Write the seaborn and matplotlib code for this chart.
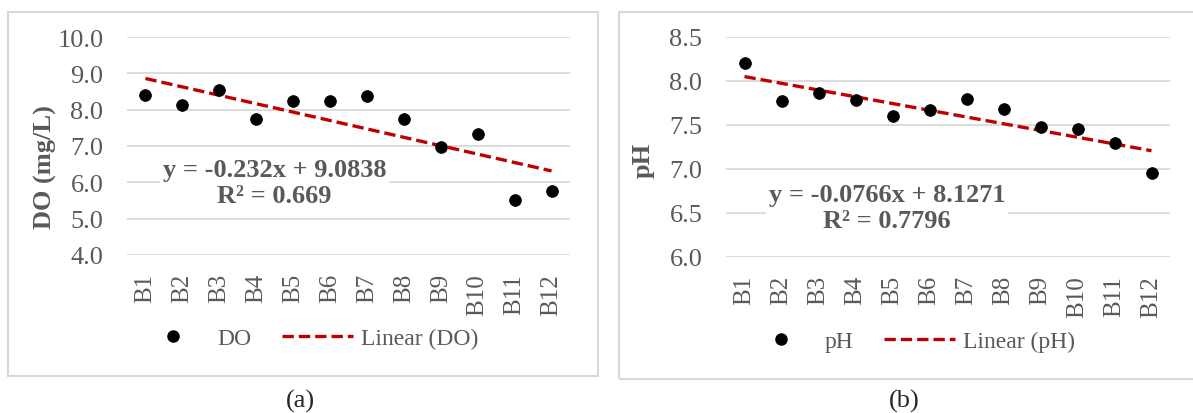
import numpy as np
import matplotlib
matplotlib.use('Agg')
import matplotlib.pyplot as plt
from matplotlib.patches import Rectangle
from matplotlib.lines import Line2D
import seaborn as sns

# datos
sitios = ['B1', 'B2', 'B3', 'B4', 'B5', 'B6', 'B7', 'B8', 'B9', 'B10', 'B11', 'B12']
do_vals = [8.40, 8.12, 8.55, 7.75, 8.25, 8.25, 8.37, 7.75, 6.97, 7.33, 5.52, 5.77]
ph_vals = [8.20, 7.77, 7.86, 7.78, 7.60, 7.67, 7.80, 7.68, 7.48, 7.46, 7.30, 6.95]
do_ticks = [4.0, 5.0, 6.0, 7.0, 8.0, 9.0, 10.0]
ph_ticks = [6.0, 6.5, 7.0, 7.5, 8.0, 8.5]
do_eq = 'y = -0.232x + 9.0838\nR² = 0.669'
ph_eq = 'y = -0.0766x + 8.1271\nR² = 0.7796'

sns.set_style('whitegrid')
plt.rcParams['font.family'] = ['Liberation Serif', 'DejaVu Serif']

GRIS = '#595959'
ROJO = '#C00000'
GUION = (0, (3.4, 1.5))
W, H = 1193, 414
fig = plt.figure(figsize=(W / 100, H / 100), dpi=100)


def px_axes(x0, x1, y0, y1):
    # y0 = pixel de arriba, y1 = pixel de abajo
    return fig.add_axes([x0 / W, (H - y1) / H, (x1 - x0) / W, (y1 - y0) / H])


def panel(ax, vals, ticks, ylabel, nombre, eq, eq_xy, lab_xy, leg_xy):
    x = np.arange(1, len(sitios) + 1)
    sns.regplot(x=x, y=vals, ax=ax, scatter=False, ci=None,
                line_kws=dict(color=ROJO, ls=GUION, lw=2.4))
    sns.scatterplot(x=x, y=vals, ax=ax, color='black', s=70,
                    edgecolor='black', zorder=4, clip_on=False)
    ax.set_xlim(0.5, len(sitios) + 0.5)
    ax.set_ylim(ticks[0], ticks[-1])
    ax.set_yticks(ticks)
    ax.set_yticklabels([f'{t:.1f}' for t in ticks])
    ax.set_xticks(x)
    ax.set_xticklabels(sitios, rotation=90)
    ax.tick_params(axis='both', colors=GRIS, length=0)
    ax.tick_params(axis='y', labelsize=19, pad=17)
    ax.tick_params(axis='x', labelsize=18, pad=13)
    ax.grid(axis='y', color='#D9D9D9', lw=1.3)
    ax.grid(axis='x', visible=False)
    for s in ax.spines.values():
        s.set_visible(False)
    ax.set_ylabel(ylabel, fontsize=19, fontweight='bold', color=GRIS)
    ax.yaxis.set_label_coords(*lab_xy)
    ax.set_xlabel('')
    ax.text(eq_xy[0], eq_xy[1], eq, ha='center', va='center', fontsize=19,
            fontweight='bold', color=GRIS, linespacing=1.15, zorder=3,
            bbox=dict(facecolor='white', edgecolor='none', pad=2))
    handles = [Line2D([], [], ls='none', marker='o', color='black', ms=8),
               Line2D([], [], color=ROJO, ls=GUION, lw=2.4)]
    ax.legend(handles, [nombre, f'Linear ({nombre})'], loc='center',
              bbox_to_anchor=leg_xy, ncol=2, frameon=False, fontsize=17,
              labelcolor=GRIS, handlelength=3.0, columnspacing=1.3,
              handletextpad=0.35)


ax1 = px_axes(127, 570, 38, 256)
panel(ax1, do_vals, do_ticks, 'DO (mg/L)', 'DO', do_eq, (4.5, 6.0),
      (-0.158, 0.41), (0.409, -0.381))

ax2 = px_axes(726, 1170, 38, 258)
panel(ax2, ph_vals, ph_ticks, 'pH', 'pH', ph_eq, (4.85, 6.56),
      (-0.16, 0.445), (0.415, -0.382))

# marcos de cada panel
fig.patches.append(Rectangle((8 / W, (H - 377) / H), 590 / W, 364 / H,
                             transform=fig.transFigure, fill=False,
                             edgecolor='#D9D9D9', lw=1.5))
fig.patches.append(Rectangle((619 / W, (H - 380) / H), 580 / W, 367 / H,
                             transform=fig.transFigure, fill=False,
                             edgecolor='#D9D9D9', lw=1.5))
fig.text(300 / W, (H - 401) / H, '(a)', ha='center', va='center', fontsize=19)
fig.text(904 / W, (H - 401) / H, '(b)', ha='center', va='center', fontsize=19)

fig.savefig('out.png', dpi=100)
